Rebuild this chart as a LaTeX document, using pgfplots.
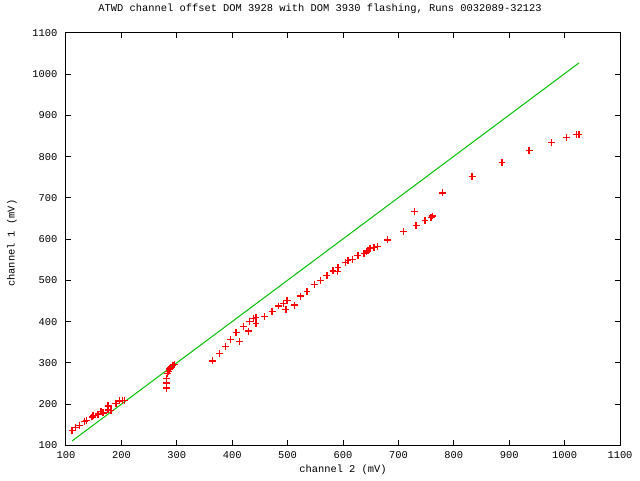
\documentclass[border=0pt]{standalone}
\usepackage{pgfplots}
\pgfplotsset{compat=1.18}
\usepackage{fontspec}
\setmainfont{Liberation Mono}
\definecolor{gpred}{RGB}{255,0,0}
\definecolor{gpgreen}{RGB}{0,192,0}
\newcommand{\gpfont}{\fontsize{7.8}{9}\selectfont}
\begin{document}
\begin{tikzpicture}
\useasboundingbox (-49.5pt,-25.9pt) rectangle (430.5pt,334.1pt);
\begin{axis}[
  at={(0,0)}, anchor=south west,
  scale only axis,
  width=415.5pt, height=309.5pt,
  xmin=100, xmax=1100, ymin=100, ymax=1100,
  xtick={100,200,...,1100}, ytick={100,200,...,1100},
  tick align=inside,
  major tick length=3.75pt,
  axis line style={line width=0.75pt},
  every tick/.style={black, line width=0.75pt},
  /pgf/number format/assume math mode=true,
  /pgf/number format/1000 sep={},
  tick label style={font=\gpfont},
  yticklabel style={xshift=-3pt},
  xticklabel style={yshift=-1pt},
  title={ATWD channel offset DOM 3928 with DOM 3930 flashing, Runs 0032089-32123},
  title style={font=\gpfont, at={(axis description cs:0.4585,1.038)}, anchor=center},
  xlabel={channel 2 (mV)},
  xlabel style={font=\gpfont, at={(axis description cs:0.5,-0.059)}, anchor=center},
  ylabel={channel 1 (mV)},
  ylabel style={font=\gpfont, at={(axis description cs:-0.0975,0.49)}, anchor=center, rotate=0},
  clip=false,
]
\addplot[gpgreen, line width=0.75pt] coordinates {(111,111) (1026,1027)};
\addplot[only marks, mark=+, mark size=2.6pt, gpred, mark options={line width=1pt}] coordinates {
(111,136) (117,143) (124,149) (133,158) (137,161) (147,169) (149,173) (158,176)
(163,182) (167,179) (176,196) (176,186) (181,184) (190,201) (197,208) (202,209)
(205,209)
(282,239) (282,251) (282,263) (283,275) (285,280) (286,285) (289,289) (293,293) (296,296)
(364,305) (377,323) (388,340) (397,357) (407,374) (413,352) (420,389) (429,377)
(431,401) (439,408) (443,410) (443,396) (458,413) (472,425) (483,438) (492,444)
(498,451) (499,452) (497,430) (512,440) (523,462) (535,473) (548,490) (559,500)
(571,512) (582,523) (590,522) (591,532) (605,543) (609,548) (617,551) (627,560)
(638,565) (643,569) (645,573) (649,578) (656,580) (662,582) (680,598) (709,619)
(729,667) (732,633) (748,645) (759,653) (761,656) (780,712) (833,752) (887,786)
(936,815) (976,834) (1004,846) (1021,854) (1026,854)
};
\end{axis}
\end{tikzpicture}
\end{document}
